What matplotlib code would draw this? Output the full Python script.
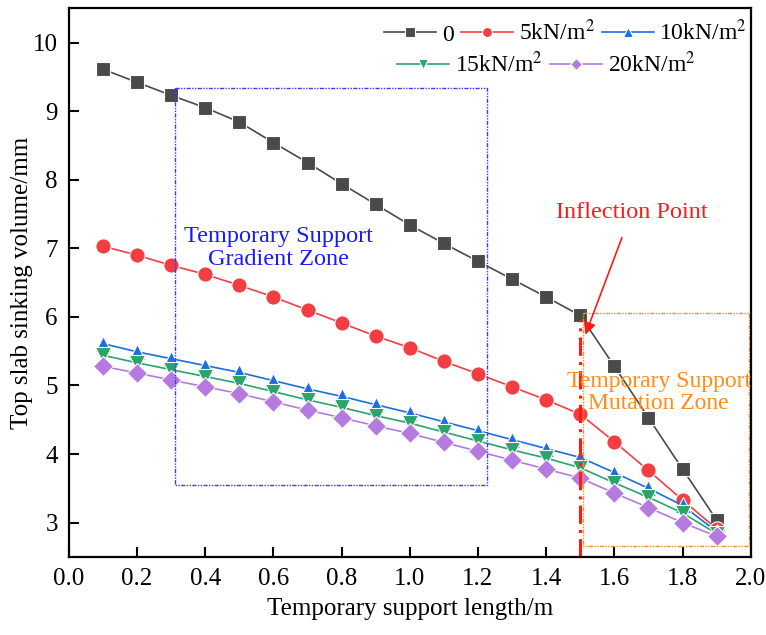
import numpy as np
import matplotlib
matplotlib.use('Agg')
import matplotlib.pyplot as plt

plt.rcParams['font.family'] = ['Liberation Serif', 'DejaVu Serif']
plt.rcParams['mathtext.fontset'] = 'stix'

# support length (m)
length = [0.1, 0.2, 0.3, 0.4, 0.5, 0.6, 0.7, 0.8, 0.9, 1.0,
          1.1, 1.2, 1.3, 1.4, 1.5, 1.6, 1.7, 1.8, 1.9]

# sinking volume (mm) for each load
load_0 = [9.61, 9.42, 9.23, 9.05, 8.84, 8.54, 8.25, 7.94, 7.64, 7.34,
          7.07, 6.81, 6.55, 6.29, 6.02, 5.28, 4.53, 3.78, 3.04]
load_5 = [7.03, 6.90, 6.75, 6.62, 6.46, 6.29, 6.10, 5.91, 5.72, 5.55,
          5.35, 5.17, 4.98, 4.79, 4.58, 4.18, 3.76, 3.33, 2.91]
load_10 = [5.61, 5.49, 5.39, 5.29, 5.19, 5.07, 4.95, 4.84, 4.72, 4.60,
           4.47, 4.34, 4.21, 4.08, 3.95, 3.73, 3.50, 3.25, 2.87]
load_15 = [5.44, 5.33, 5.23, 5.13, 5.03, 4.91, 4.79, 4.68, 4.56, 4.45,
           4.32, 4.19, 4.06, 3.94, 3.80, 3.58, 3.37, 3.14, 2.84]
load_20 = [5.28, 5.18, 5.08, 4.98, 4.88, 4.76, 4.64, 4.53, 4.41, 4.30,
           4.17, 4.04, 3.91, 3.78, 3.65, 3.43, 3.22, 3.00, 2.80]

labels = ['0', '5kN/m$^2$', '10kN/m$^2$', '15kN/m$^2$', '20kN/m$^2$']
series = [load_0, load_5, load_10, load_15, load_20]
colors = ['#4a4a4a', '#f23d42', '#1a6ee0', '#2ba36a', '#b57ae0']
markers = ['s', 'o', '^', 'v', 'D']
msizes = [10, 11, 11, 11, 10]

fig = plt.figure(figsize=(7.66, 6.35), dpi=100)
ax = fig.add_axes([0.090, 0.123, 0.890, 0.864])

handles = []
for y, c, m, ms, lab in zip(series, colors, markers, msizes, labels):
    h, = ax.plot(length, y, color=c, lw=1.2, marker=m, markersize=ms,
                 markerfacecolor=c, markeredgecolor='white', markeredgewidth=0.8,
                 label=lab)
    handles.append(h)

# zone boxes
ax.plot([0.31, 1.225, 1.225, 0.31, 0.31], [9.34, 9.34, 3.55, 3.55, 9.34],
        color='#3a3aff', lw=1.0, ls=(0, (3, 1, 1, 1, 1, 1)))
ax.plot([1.508, 1.995, 1.995, 1.508, 1.508], [6.05, 6.05, 2.66, 2.66, 6.05],
        color='#ff8c1a', lw=1.0, ls=(0, (3, 1, 1, 1, 1, 1)))

# inflection line and arrow
ax.plot([1.5, 1.5], [2.5, 5.95], color='#ff1a1a', lw=2.2, ls=(0, (6, 2, 1, 2)))
ax.annotate('Inflection Point', xy=(1.515, 5.74), xytext=(1.65, 7.52),
            color='#ff1a1a', fontsize=17.5, ha='center', va='center',
            arrowprops=dict(arrowstyle='-|>', color='#ff1a1a', lw=1.2,
                            mutation_scale=18, shrinkA=9, shrinkB=0))

ax.text(0.615, 7.0, 'Temporary Support\nGradient Zone', color='#1a1aff',
        fontsize=17.5, ha='center', va='center', linespacing=1.1)
ax.text(1.73, 4.9, 'Temporary Support\nMutation Zone', color='#ff8c1a',
        fontsize=17, ha='center', va='center', linespacing=1.1)

ax.set_xlim(0, 2.0)
ax.set_ylim(2.5, 10.5)
ax.set_xticks(np.arange(0, 2.01, 0.2))
ax.set_xticklabels(['%.1f' % v for v in np.arange(0, 2.01, 0.2)])
ax.set_yticks([3, 4, 5, 6, 7, 8, 9, 10])
ax.tick_params(direction='in', length=7, width=1.5, labelsize=18, pad=8)
for s in ax.spines.values():
    s.set_linewidth(1.6)

ax.set_xlabel('Temporary support length/m', fontsize=18, labelpad=6)
ax.set_ylabel('Top slab sinking volume/mm', fontsize=18, labelpad=0)

leg_kw = dict(frameon=False, fontsize=17, handlelength=2.2, handletextpad=0.25,
              columnspacing=0.3, markerscale=0.65)
leg1 = ax.legend(handles=handles[:3], loc='upper right', ncol=3,
                 borderaxespad=0.1, bbox_to_anchor=(1.012, 1.0), **leg_kw)
ax.add_artist(leg1)
ax.legend(handles=handles[3:], loc='upper center', ncol=2,
          bbox_to_anchor=(0.70, 0.96), **leg_kw)

fig.savefig('out.png', dpi=100)
